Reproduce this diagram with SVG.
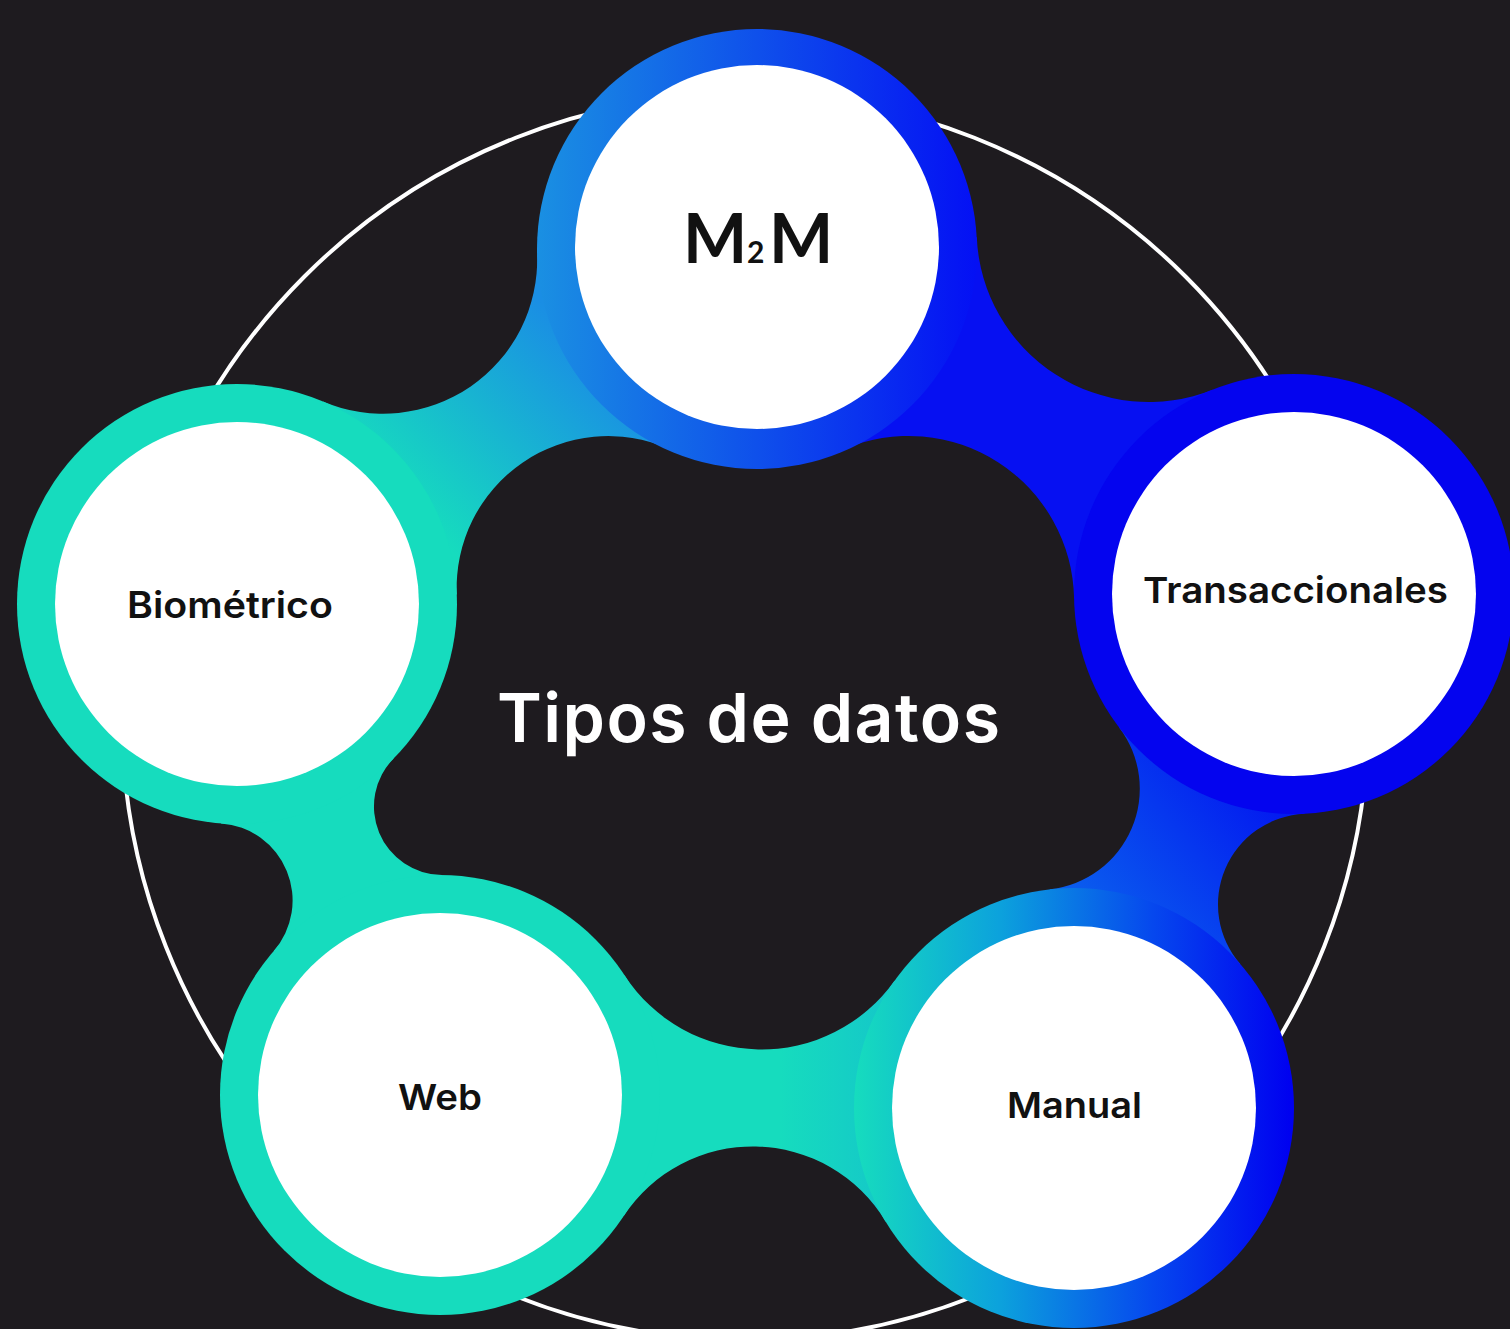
<svg xmlns="http://www.w3.org/2000/svg" width="1510" height="1329" viewBox="0 0 1510 1329">
<defs>
<style>
.lbl{font-family:"Inter","Lato","Liberation Sans",sans-serif;font-weight:600;fill:#111;}
.title{font-family:"Inter","Lato","Liberation Sans",sans-serif;font-weight:600;fill:#fff;}
.m2m{font-family:"Lato","Open Sans","Liberation Sans",sans-serif;font-weight:700;fill:#111;}
.white{fill:#fff;}
</style>
<linearGradient id="gB1" gradientUnits="userSpaceOnUse" x1="400" y1="500" x2="570" y2="330">
<stop offset="0" stop-color="#16dcbe"/><stop offset="1" stop-color="#1a8ee4"/>
</linearGradient>
<linearGradient id="gM2M" gradientUnits="userSpaceOnUse" x1="537" y1="0" x2="977" y2="0">
<stop offset="0" stop-color="#1a90e2"/><stop offset="1" stop-color="#0410f4"/>
</linearGradient>
<linearGradient id="gB3" gradientUnits="userSpaceOnUse" x1="1280" y1="770" x2="1100" y2="920">
<stop offset="0" stop-color="#0212f0"/><stop offset="1" stop-color="#0a5cee"/>
</linearGradient>
<linearGradient id="gMan" gradientUnits="userSpaceOnUse" x1="855" y1="0" x2="1292" y2="0">
<stop offset="0" stop-color="#16dcbe"/><stop offset="0.33" stop-color="#0ca2dc"/><stop offset="0.68" stop-color="#0648ee"/><stop offset="1" stop-color="#0000f0"/>
</linearGradient>
<linearGradient id="gB4" gradientUnits="userSpaceOnUse" x1="780" y1="0" x2="905" y2="0">
<stop offset="0" stop-color="#16dcbe"/><stop offset="1" stop-color="#14c4ca"/>
</linearGradient>
</defs>
<rect width="1510" height="1329" fill="#1e1b1f"/>
<circle cx="745" cy="717" r="623" fill="none" stroke="#ffffff" stroke-width="4"/>
<g id="connectors">
<path id="bio-m2m" fill="url(#gB1)" d="M 456.8 594.4 A 151.7 151.7 0 0 1 669.0 448.7 L 757 247 L 537.1 254.5 A 154 154 0 0 1 323.0 401.5 L 237 604 Z"/>
<path id="m2m-trans" fill="#0610f2" d="M 843.4 449.3 A 165.6 165.6 0 0 1 1074.1 598.3 L 1294 594 L 1212.6 389.7 A 172.2 172.2 0 0 1 976.8 237.3 L 757 247 Z"/>
<path id="trans-manual" fill="url(#gB3)" d="M 1119.1 727.4 A 101.2 101.2 0 0 1 1049.8 889.3 L 1074 1108 L 1240.2 963.9 A 90.8 90.8 0 0 1 1304.5 813.7 L 1294 594 Z"/>
<path id="manual-web" fill="url(#gB4)" d="M 894.5 980.7 A 163.2 163.2 0 0 1 624.5 975.2 L 440 1095 L 623.7 1216.1 A 154.7 154.7 0 0 1 885.5 1221.4 L 1074 1108 Z"/>
<path id="web-bio" fill="#16dcbe" d="M 441.9 875.0 A 68.5 68.5 0 0 1 393.7 758.4 L 237 604 L 221.0 823.4 A 77.2 77.2 0 0 1 273.7 951.0 L 440 1095 Z"/>
</g>
<g id="node-m2m">
<circle cx="757" cy="249" r="220" fill="url(#gM2M)"/>
<circle class="white" cx="757" cy="247" r="182"/>
<text class="m2m" y="263" font-size="68"><tspan x="683">M</tspan><tspan x="747" font-size="30">2</tspan><tspan x="769">M</tspan></text>
</g>
<g id="node-trans">
<circle cx="1294" cy="594" r="220" fill="#0404ef"/>
<circle class="white" cx="1294" cy="594" r="182"/>
<text class="lbl" x="1143" y="603" font-size="36" textLength="305" lengthAdjust="spacingAndGlyphs">Transaccionales</text>
</g>
<g id="node-manual">
<circle cx="1074" cy="1108" r="220" fill="url(#gMan)"/>
<circle class="white" cx="1074" cy="1108" r="182"/>
<text class="lbl" x="1007" y="1118" font-size="36" textLength="135" lengthAdjust="spacingAndGlyphs">Manual</text>
</g>
<g id="node-web">
<circle cx="440" cy="1095" r="220" fill="#16dcbe"/>
<circle class="white" cx="440" cy="1095" r="182"/>
<text class="lbl" x="398" y="1110" font-size="36" textLength="84" lengthAdjust="spacingAndGlyphs">Web</text>
</g>
<g id="node-bio">
<circle cx="237" cy="604" r="220" fill="#16dcbe"/>
<circle class="white" cx="237" cy="604" r="182"/>
<text class="lbl" x="127" y="618" font-size="37" textLength="206" lengthAdjust="spacingAndGlyphs">Biométrico</text>
</g>
<g id="title">
<text class="title" x="497" y="742" font-size="68" textLength="503" lengthAdjust="spacing">Tipos de datos</text>
</g>
</svg>
